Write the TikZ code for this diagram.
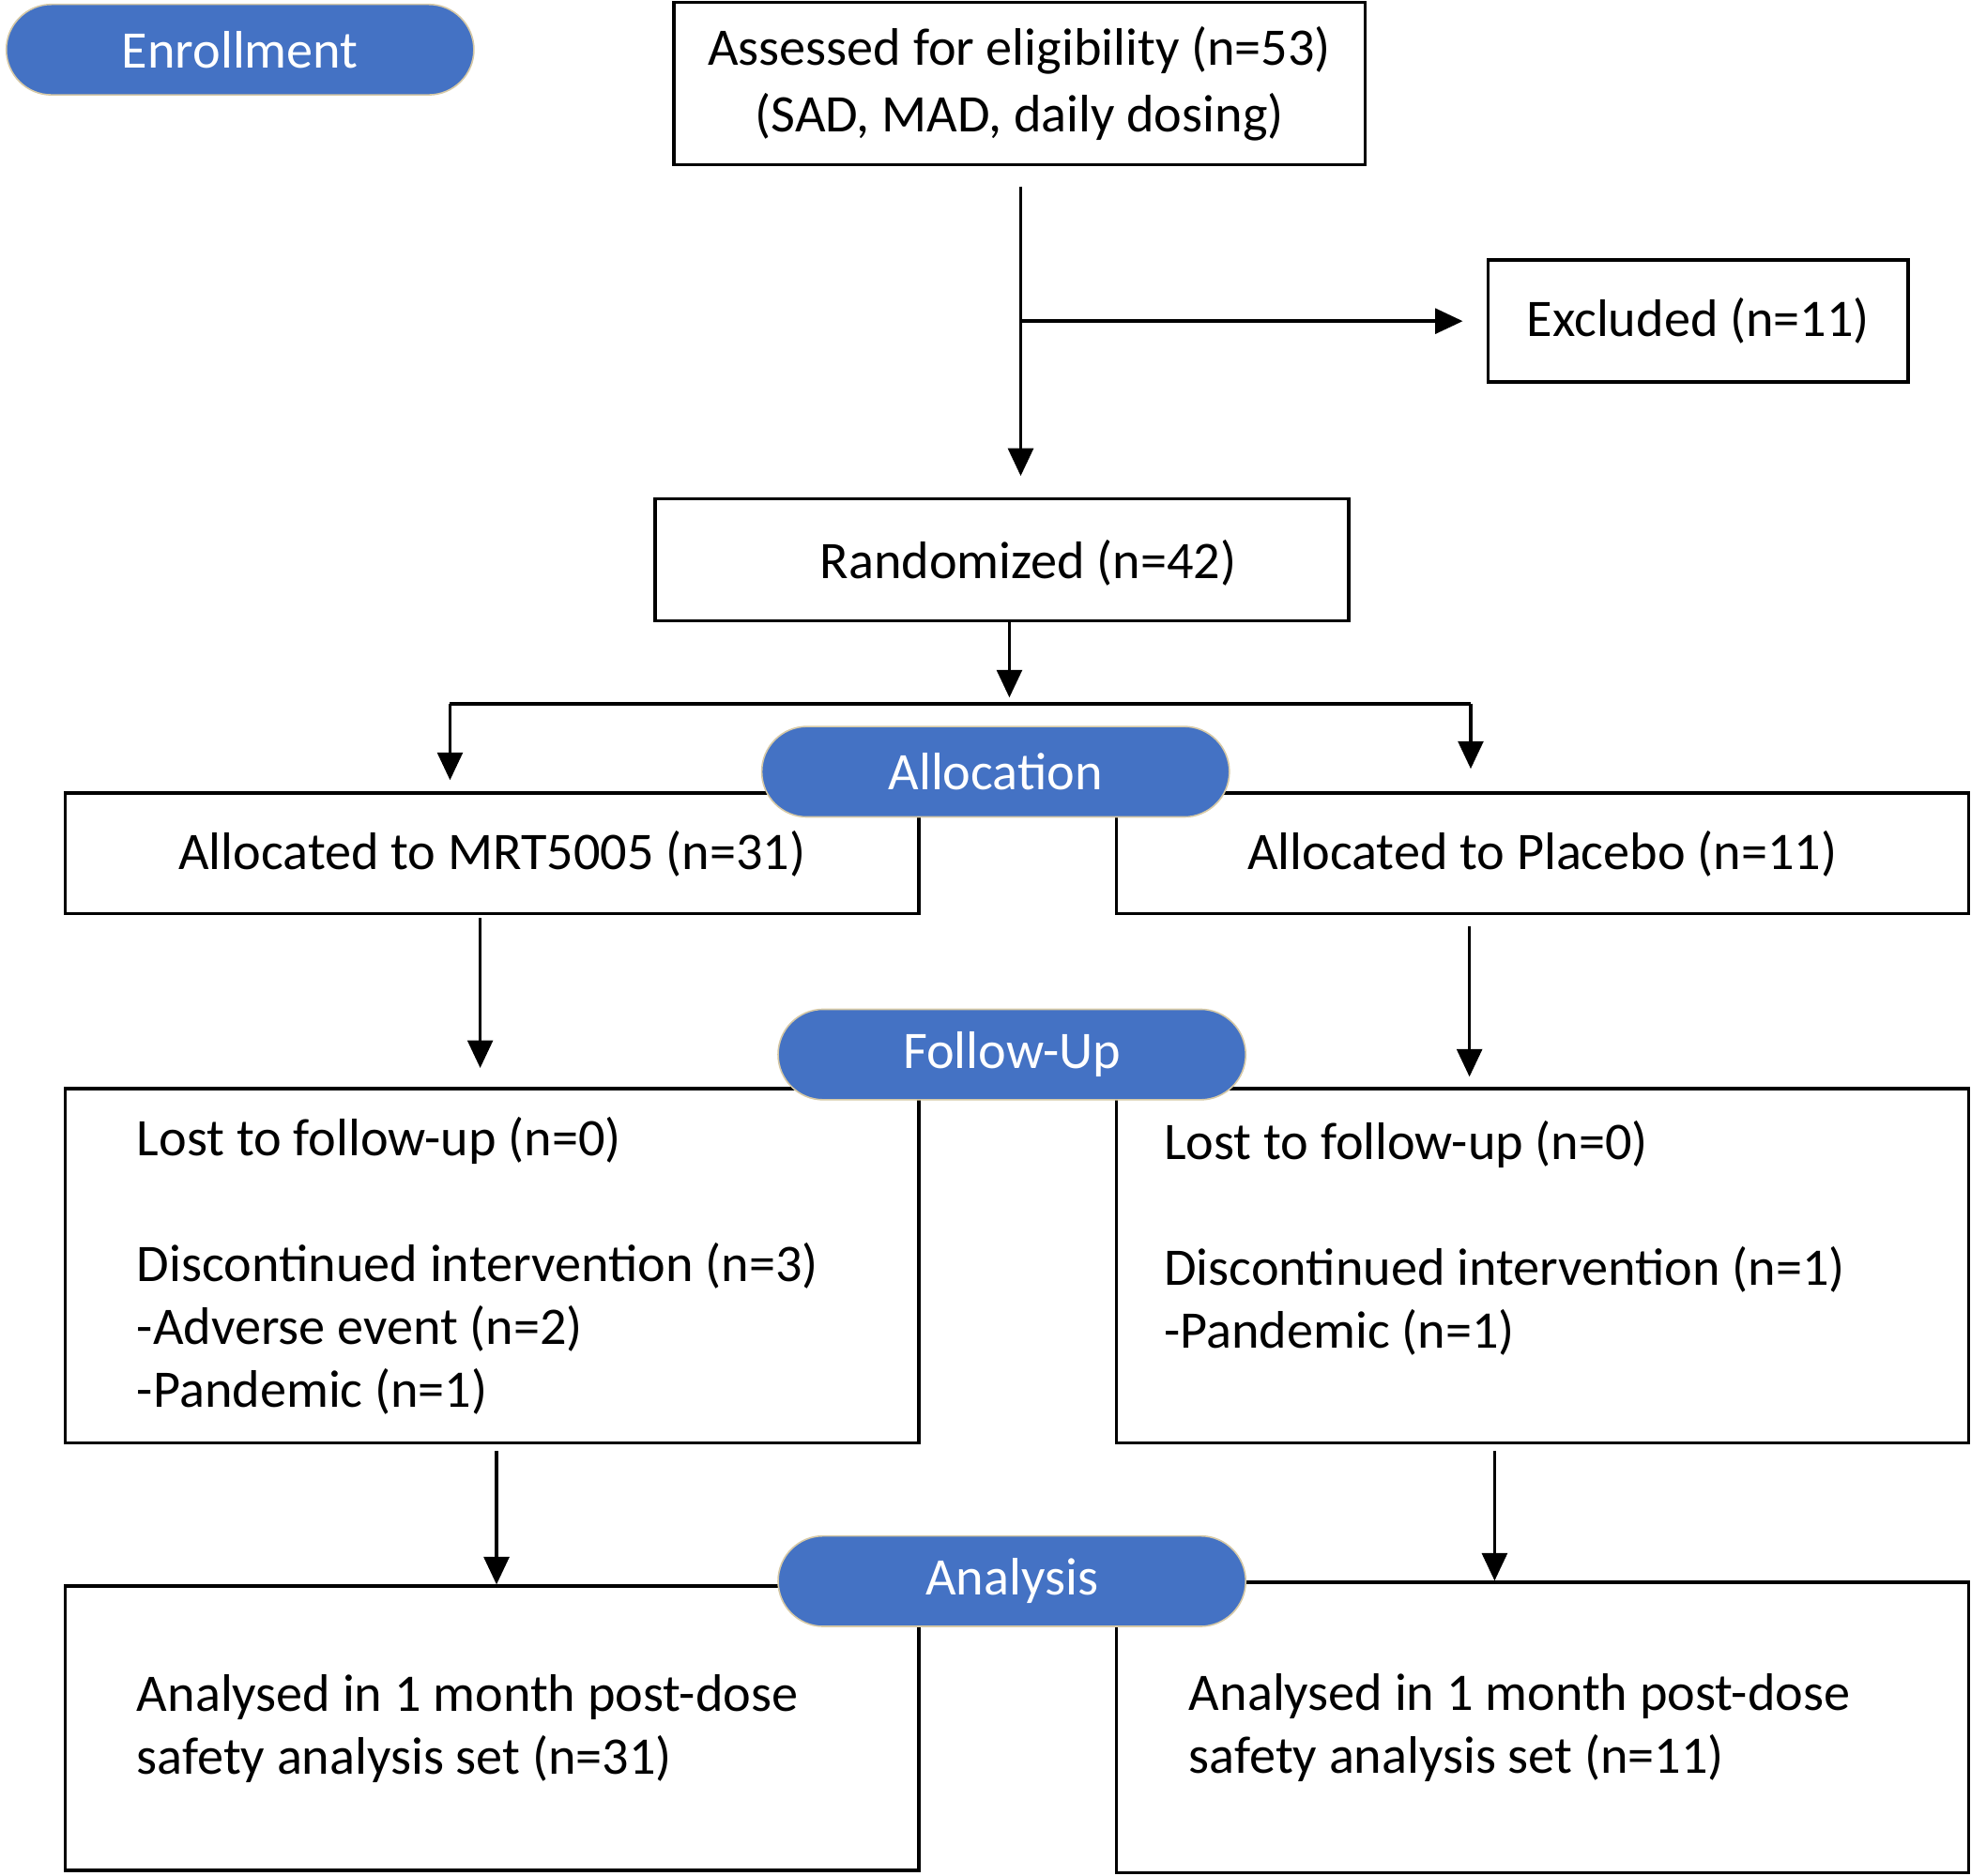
\documentclass[tikz,border=0pt]{standalone}
\usepackage{fontspec}
\setmainfont{Carlito}
\usetikzlibrary{arrows.meta}
\definecolor{pillblue}{HTML}{4472C4}
\definecolor{pilledge}{HTML}{D6C9A6}
\begin{document}
\begin{tikzpicture}[x=0.5pt,y=-0.5pt,
  every node/.style={font=\fontsize{21}{25}\selectfont, inner sep=0pt},
  box/.style={draw, line width=1.3pt, rectangle},
  pill/.style={draw=pilledge, line width=0.6pt, fill=pillblue, text=white, rounded corners=18pt, minimum width=186pt, minimum height=36pt},
  conn/.style={line width=1.3pt},
  arr/.style={conn, -{Triangle[length=11pt,width=10pt]}}]
\path[use as bounding box] (0,0) rectangle (1568,1492);

% boxes
\node[box, minimum width=275pt, minimum height=64.5pt, align=center, font=\fontsize{21}{26.5}\selectfont] (assess) at (811,66.5) {Assessed for eligibility (n=53)\\(SAD, MAD, daily dosing)};
\node[box, minimum width=167pt, minimum height=48.5pt] (excl) at (1351,255.5) {Excluded (n=11)};
\node[box, minimum width=276pt, minimum height=48.5pt, label={[xshift=10.5pt,yshift=-1pt]center:Randomized (n=42)}] (rand) at (797,445.5) {};
\node[box, minimum width=339.5pt, minimum height=48pt] (mrt) at (391.5,679) {Allocated to MRT5005 (n=31)};
\node[box, minimum width=339pt, minimum height=48pt] (plac) at (1227,679) {Allocated to Placebo (n=11)};
\node[box, minimum width=339.5pt, minimum height=141pt, align=flush left, text width=282.5pt, inner xsep=28.5pt] (fl) at (391.5,1007) {Lost to follow-up (n=0)\\[25pt]Discontinued intervention (n=3)\\-Adverse event (n=2)\\-Pandemic (n=1)};
\node[box, minimum width=339pt, minimum height=141pt, align=flush left, text width=301pt, inner xsep=19pt] (fr) at (1227,1007) {Lost to follow-up (n=0)\\[25pt]Discontinued intervention (n=1)\\-Pandemic (n=1)\\\mbox{}};
\node[box, minimum width=339.5pt, minimum height=113pt, align=flush left, text width=282.5pt, inner xsep=28.5pt] (al) at (391.5,1375) {Analysed in 1 month post-dose\\safety analysis set (n=31)};
\node[box, minimum width=339pt, minimum height=115.5pt, align=flush left, text width=281pt, inner xsep=29pt] (ar) at (1227,1374.5) {Analysed in 1 month post-dose\\safety analysis set (n=11)};

% connectors
\coordinate (split) at (803,560);
\coordinate (L) at (358,560);
\coordinate (R) at (1170,560);
\draw[arr, shorten <=8pt, shorten >=8.5pt] ([xshift=0.5pt]assess.south) -- ([xshift=0.5pt]assess.south |- rand.north);
\draw[arr, shorten >=9.5pt] ([xshift=0.5pt]assess.south |- excl.west) -- (excl.west);
\draw[arr, shorten >=2.5pt] (rand.south -| split) -- (split);
\draw[conn] (L) -- (R);
\draw[arr, shorten >=4.5pt] (L) -- (L |- mrt.north);
\draw[arr, shorten >=9pt] (R) -- (R |- plac.north);
\draw[arr, shorten <=1pt, shorten >=7.5pt] ([xshift=-4.75pt]mrt.south) -- ([xshift=-4.75pt]mrt.south |- fl.north);
\draw[arr, shorten <=4.5pt, shorten >=4pt] ([xshift=-29pt]plac.south) -- ([xshift=-29pt]plac.south |- fr.north);
\draw[arr, shorten <=2.5pt] ([xshift=1.75pt]fl.south) -- ([xshift=1.75pt]fl.south |- al.north);
\draw[arr, shorten <=2.5pt] ([xshift=-19pt]fr.south) -- ([xshift=-19pt]fr.south |- ar.north);

% stage pills
\node[pill] (enroll) at (191,39.5) {Enrollment};
\node[pill] (alloc) at (792,614) {Allocation};
\node[pill] (follow) at (805,839) {Follow-Up};
\node[pill] (analysis) at (805,1258) {Analysis};
\end{tikzpicture}
\end{document}
